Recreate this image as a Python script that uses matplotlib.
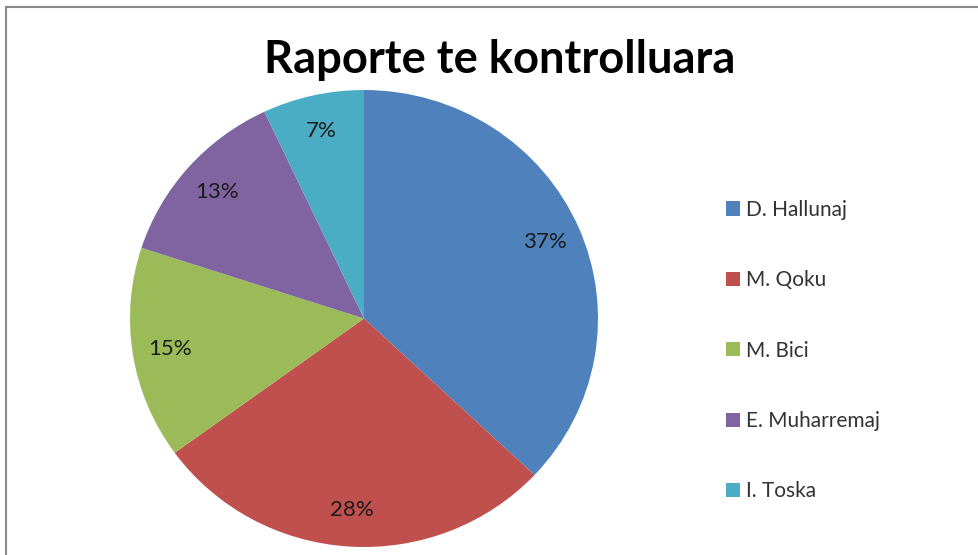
import matplotlib.pyplot as plt
from matplotlib.patches import Patch
from matplotlib.lines import Line2D

names = ["D. Hallunaj", "M. Qoku", "M. Bici", "E. Muharremaj", "I. Toska"]
shares = [37, 28, 15, 13, 7]
colors = ["#4F81BD", "#C0504D", "#9BBB59", "#8064A2", "#4BACC6"]
title = "Raporte te kontrolluara"

plt.rcParams["font.family"] = ["Lato", "DejaVu Sans"]

fig = plt.figure(figsize=(9.79, 5.55), dpi=100)
fig.patch.set_facecolor("white")

# pie area (slightly elliptical like the source)
ax = fig.add_axes([130 / 979, 1 - 547 / 555, 468 / 979, 457 / 555])
wedges, texts, autotexts = ax.pie(
    shares, colors=colors, startangle=90, counterclock=False,
    autopct="%1.0f%%", pctdistance=0.84,
    wedgeprops={"linewidth": 0},
    textprops={"fontsize": 16, "color": "#1a1a1a"},
)
ax.set_aspect("auto")
ax.set_xlim(-1, 1)
ax.set_ylim(-1, 1)

fig.text(500 / 979, 1 - 60 / 555, title, ha="center", va="center",
         fontsize=32.7, fontweight="bold", color="black")

handles = [Patch(facecolor=c, edgecolor="none") for c in colors]
fig.legend(handles, names, loc="upper left",
           bbox_to_anchor=(707 / 979, 1 - 181 / 555),
           frameon=False, fontsize=15, handlelength=0.67, handleheight=0.67,
           handletextpad=0.3, labelspacing=2.42, labelcolor="#333333")

# outer chart border (left and top visible)
fig.add_artist(Line2D([6 / 979, 6 / 979], [0, 1 - 7 / 555], color="#8a8a8a", lw=1.5))
fig.add_artist(Line2D([6 / 979, 1], [1 - 7 / 555, 1 - 7 / 555], color="#8a8a8a", lw=1.5))

fig.savefig("out.png", dpi=100)
plt.close(fig)
